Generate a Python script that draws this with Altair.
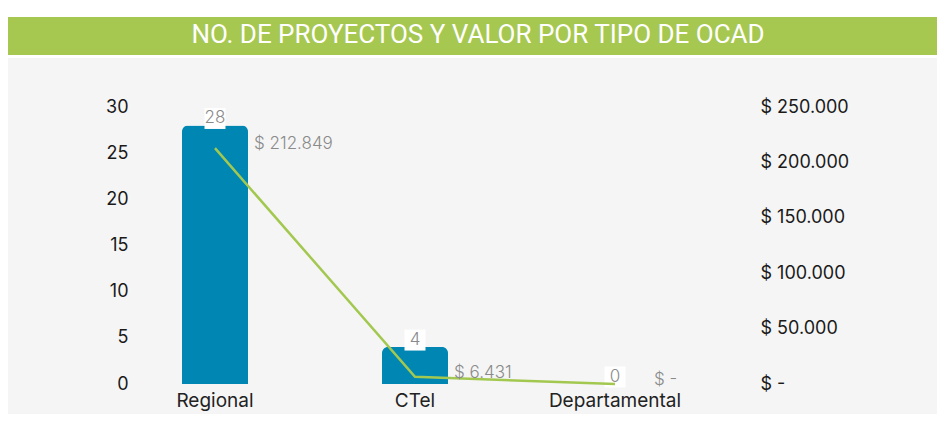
import altair as alt
import pandas as pd

categories = ["Regional", "CTel", "Departamental"]
projects = [28, 4, 0]
values = [212849, 6431, 0]
value_labels = ["$ 212.849", "$ 6.431", "$ -"]
title_text = "NO. DE PROYECTOS Y VALOR POR TIPO DE OCAD"

df = pd.DataFrame({"cat": categories, "n": projects, "v": values, "vl": value_labels})
one = pd.DataFrame({"a": [0]})

FONT = "Inter"
BAR = "#0086b3"
LINE = "#a3c850"
GREEN = "#a6c851"

xenc = alt.X("cat:N", sort=categories, title=None,
             scale=alt.Scale(paddingInner=0, paddingOuter=0),
             axis=alt.Axis(labelAngle=0, ticks=False, tickSize=0, domain=False, labelPadding=7,
                           labelFontSize=19, labelColor="#222222", labelFont=FONT, zindex=1))

bg = alt.Chart(one).mark_rect(color="#f5f5f5").encode(
    x=alt.value(-107), x2=alt.value(822), y=alt.value(-49), y2=alt.value(307))
banner = alt.Chart(one).mark_rect(color=GREEN).encode(
    x=alt.value(-107), x2=alt.value(822), y=alt.value(-90), y2=alt.value(-52))
title = alt.Chart(one).mark_text(color="white", fontSize=26, font="Roboto", align="center",
                                 baseline="middle").encode(
    x=alt.value(363), y=alt.value(-72), text=alt.value(title_text))

yn = alt.Y("n:Q", title=None, scale=alt.Scale(domain=[0, 30]),
           axis=alt.Axis(orient="left", values=[0, 5, 10, 15, 20, 25, 30], grid=False, domain=False,
                         ticks=False, tickSize=0, labelPadding=0, offset=-13, labelFontSize=18,
                         labelColor="#1a1a1a", labelFont=FONT, zindex=1))
base = alt.Chart(df)
bars = base.mark_bar(color=BAR, size=66, cornerRadiusTopLeft=6, cornerRadiusTopRight=6).encode(x=xenc, y=yn)
boxes = base.mark_square(color="white", opacity=1, size=440, yOffset=-7).encode(x=xenc, y=yn)
nlabels = base.mark_text(color="#8a8a8a", fontSize=17, font=FONT, fontWeight=300, dy=-7,
                         baseline="middle").encode(x=xenc, y=yn, text="n:Q")
bar_group = alt.layer(bars, boxes, nlabels)

yv = alt.Y("v:Q", title=None, scale=alt.Scale(domain=[0, 250000]),
           axis=alt.Axis(orient="right", values=[0, 50000, 100000, 150000, 200000, 250000], grid=False,
                         domain=False, ticks=False, tickSize=0, labelPadding=45, labelFontSize=18,
                         labelColor="#1a1a1a", labelFont=FONT, zindex=1,
                         labelExpr="datum.value == 0 ? '$ -' : '$ ' + replace(format(datum.value, ','), regexp(',', 'g'), '.')"))
line = base.mark_line(color=LINE, strokeWidth=2.5).encode(x=xenc, y=yv)
vlabels = base.mark_text(color="#8a8a8a", fontSize=17, font=FONT, fontWeight=300, align="left",
                         baseline="middle", dx=39, dy=-4).encode(x=xenc, y=yv, text="vl:N")
line_group = alt.layer(line, vlabels)

chart = alt.layer(bg, banner, title, bar_group, line_group).resolve_scale(y="independent").properties(
    width=600, height=277,
    autosize=alt.AutoSizeParams(type="none"),
    padding={"left": 107, "top": 99, "right": 222, "bottom": 30},
    background="white",
).configure_view(stroke=None)

chart.save("out.html", embed_options={"renderer": "svg", "actions": False})
